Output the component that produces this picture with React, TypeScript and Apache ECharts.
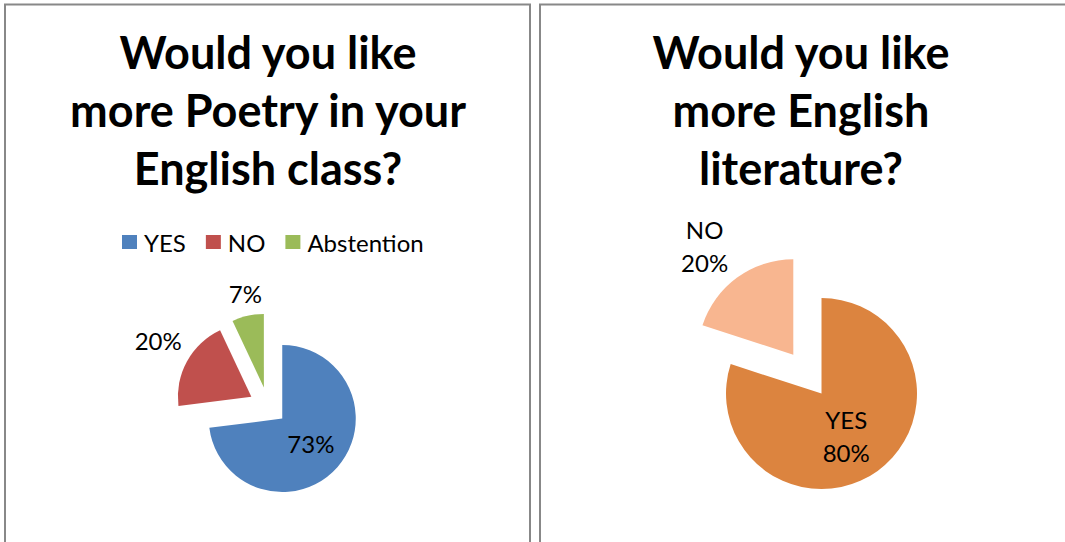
import React, { useEffect, useRef } from "react";
import * as echarts from "echarts";

const leftTitle = "Would you like\nmore Poetry in your\nEnglish class?";
const rightTitle = "Would you like\nmore English\nliterature?";
const leftCategories = ["YES", "NO", "Abstention"];
const leftValues = [73, 20, 7];
const leftColors = ["#4F81BD", "#C0504D", "#9BBB59"];
const rightCategories = ["YES", "NO"];
const rightValues = [80, 20];
const rightColors = ["#DC843F", "#F8B690"];

// label nudges (px) from the default inside-label position
const leftLabelShift = [[13, 11], [-75, -46], [-14, -74]];
const rightLabelShift = [[9, 21], [-73, -87]];

const FONT = "Lato, 'Noto Sans', sans-serif";

export default function App() {
  const ref = useRef<HTMLDivElement>(null);
  useEffect(() => {
    if (!ref.current) return;
    const chart = echarts.init(ref.current, undefined, { renderer: "svg" });
    const mk = (cats: string[], vals: number[], colors: string[], visible: boolean) =>
      cats.map((c, i) => ({
        name: c,
        value: vals[i],
        selected: visible,
        itemStyle: visible ? { color: colors[i] } : { color: "transparent", borderWidth: 0 },
        select: visible ? { itemStyle: { color: colors[i] } } : undefined,
      }));
    const shiftLayout = (shifts: number[][]) => (p: any) => {
      const r = p.labelRect;
      const s = shifts[p.dataIndex] || [0, 0];
      return {
        x: r.x + r.width / 2 + s[0],
        y: r.y + r.height / 2 + s[1],
        align: "center",
        verticalAlign: "middle",
      };
    };
    const pieBase = { type: "pie", startAngle: 90, clockwise: true, emphasis: { disabled: true }, labelLine: { show: false } };
    chart.setOption({
      animation: false,
      backgroundColor: "#ffffff",
      textStyle: { fontFamily: FONT },
      title: [
        {
          text: leftTitle,
          left: 268,
          top: 23,
          textAlign: "center",
          padding: 0,
          textStyle: { fontFamily: FONT, fontWeight: "bold", fontSize: 45, lineHeight: 58, color: "#000" },
        },
        {
          text: rightTitle,
          left: 801,
          top: 23,
          textAlign: "center",
          padding: 0,
          textStyle: { fontFamily: FONT, fontWeight: "bold", fontSize: 45, lineHeight: 58, color: "#000" },
        },
      ],
      legend: {
        data: leftCategories,
        left: 122,
        top: 230,
        icon: "rect",
        itemWidth: 15,
        itemHeight: 14,
        itemGap: 20,
        padding: 0,
        textStyle: { fontFamily: FONT, fontSize: 24, color: "#000", padding: [0, 0, 0, 2] },
      },
      graphic: [
        { type: "rect", shape: { x: 5, y: 4.5, width: 525, height: 560 }, style: { fill: "none", stroke: "#888", lineWidth: 2 }, silent: true },
        { type: "rect", shape: { x: 540, y: 4.5, width: 560, height: 560 }, style: { fill: "none", stroke: "#888", lineWidth: 2 }, silent: true },
      ],
      series: [
        {
          ...pieBase,
          name: "Poetry",
          center: [268, 406],
          radius: 73.5,
          selectedMode: "multiple",
          selectedOffset: 19,
          data: mk(leftCategories, leftValues, leftColors, true),
          label: { show: false },
        },
        {
          ...pieBase,
          name: "Literature",
          center: [807.4, 374.2],
          radius: 95.5,
          selectedMode: "multiple",
          selectedOffset: 24,
          data: mk(rightCategories, rightValues, rightColors, true),
          label: { show: false },
        },
        {
          ...pieBase,
          name: "Poetry labels",
          center: [268, 406],
          radius: 73.5,
          silent: true,
          selectedMode: false,
          data: mk(leftCategories, leftValues, leftColors, false),
          label: { show: true, position: "inside", formatter: "{d}%", fontFamily: FONT, fontSize: 24, color: "#000" },
          labelLayout: shiftLayout(leftLabelShift),
        },
        {
          ...pieBase,
          name: "Literature labels",
          center: [807.4, 374.2],
          radius: 95.5,
          silent: true,
          selectedMode: false,
          data: mk(rightCategories, rightValues, rightColors, false),
          label: { show: true, position: "inside", formatter: "{b}\n{d}%", fontFamily: FONT, fontSize: 24, lineHeight: 33, color: "#000", align: "center" },
          labelLayout: shiftLayout(rightLabelShift),
        },
      ],
    });
    return () => chart.dispose();
  }, []);
  return <div ref={ref} style={{ position: "fixed", left: 0, top: 0, width: 1065, height: 542 }} />;
}
